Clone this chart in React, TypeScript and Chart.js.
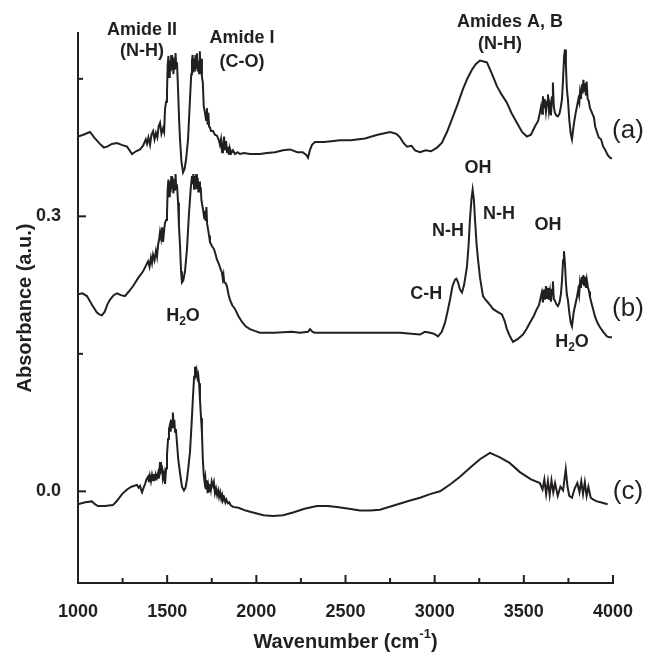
import React, { useEffect, useRef } from 'react';
import { Chart, registerables } from 'chart.js';

Chart.register(...registerables);

// ---------- data ----------
const waveA = [1000, 1030, 1067, 1095, 1123, 1145, 1163, 1190, 1219, 1245, 1275, 1303, 1325, 1348, 1365, 1380, 1387, 1395, 1404, 1412, 1421, 1429, 1437, 1445, 1452, 1460, 1468, 1477, 1483, 1488, 1494, 1499, 1503, 1507, 1511, 1515, 1519, 1523, 1527, 1531, 1535, 1539, 1543, 1547, 1551, 1555, 1561, 1567, 1572, 1580, 1589, 1598, 1606, 1617, 1628, 1635, 1639, 1643, 1647, 1651, 1655, 1659, 1663, 1667, 1671, 1675, 1679, 1683, 1687, 1691, 1695, 1700, 1705, 1712, 1718, 1723, 1727, 1731, 1735, 1740, 1746, 1757, 1768, 1779, 1790, 1796, 1802, 1808, 1813, 1819, 1825, 1830, 1836, 1841, 1847, 1852, 1860, 1869, 1880, 1895, 1908, 1930, 1964, 2020, 2060, 2105, 2150, 2189, 2230, 2260, 2280, 2290, 2300, 2312, 2329, 2380, 2420, 2469, 2530, 2609, 2680, 2750, 2785, 2806, 2825, 2845, 2870, 2890, 2918, 2950, 2980, 3013, 3040, 3069, 3103, 3130, 3159, 3185, 3209, 3230, 3254, 3275, 3293, 3320, 3349, 3375, 3405, 3430, 3461, 3490, 3517, 3540, 3562, 3580, 3590, 3597, 3603, 3607, 3612, 3617, 3624, 3630, 3635, 3641, 3646, 3652, 3658, 3663, 3668, 3674, 3682, 3691, 3700, 3708, 3714, 3720, 3726, 3731, 3736, 3741, 3747, 3755, 3763, 3770, 3780, 3790, 3798, 3806, 3811, 3815, 3820, 3826, 3830, 3834, 3838, 3843, 3848, 3852, 3858, 3864, 3871, 3878, 3884, 3893, 3900, 3910, 3920, 3933, 3945, 3955, 3970, 3983, 3994];
const absA = [0.387, 0.389, 0.392, 0.385, 0.379, 0.375, 0.376, 0.379, 0.380, 0.378, 0.376, 0.368, 0.371, 0.373, 0.377, 0.384, 0.379, 0.386, 0.378, 0.389, 0.393, 0.384, 0.391, 0.386, 0.398, 0.402, 0.390, 0.396, 0.392, 0.417, 0.425, 0.435, 0.465, 0.475, 0.452, 0.470, 0.458, 0.476, 0.460, 0.474, 0.455, 0.472, 0.460, 0.478, 0.462, 0.468, 0.439, 0.405, 0.384, 0.360, 0.348, 0.352, 0.362, 0.384, 0.428, 0.455, 0.470, 0.476, 0.457, 0.472, 0.458, 0.476, 0.462, 0.478, 0.458, 0.470, 0.456, 0.480, 0.462, 0.472, 0.452, 0.446, 0.420, 0.413, 0.405, 0.418, 0.400, 0.413, 0.398, 0.397, 0.393, 0.393, 0.389, 0.388, 0.383, 0.378, 0.384, 0.370, 0.375, 0.387, 0.372, 0.382, 0.370, 0.376, 0.368, 0.374, 0.369, 0.372, 0.368, 0.370, 0.368, 0.369, 0.368, 0.368, 0.369, 0.370, 0.372, 0.373, 0.370, 0.370, 0.367, 0.364, 0.372, 0.378, 0.381, 0.381, 0.382, 0.383, 0.383, 0.385, 0.389, 0.392, 0.390, 0.386, 0.380, 0.376, 0.377, 0.372, 0.370, 0.372, 0.371, 0.375, 0.380, 0.392, 0.409, 0.423, 0.439, 0.451, 0.460, 0.466, 0.470, 0.469, 0.468, 0.456, 0.442, 0.433, 0.424, 0.413, 0.402, 0.392, 0.387, 0.389, 0.398, 0.404, 0.413, 0.420, 0.412, 0.431, 0.418, 0.428, 0.414, 0.425, 0.433, 0.415, 0.422, 0.410, 0.430, 0.446, 0.420, 0.413, 0.410, 0.409, 0.412, 0.420, 0.428, 0.450, 0.475, 0.482, 0.465, 0.440, 0.428, 0.405, 0.390, 0.384, 0.400, 0.412, 0.420, 0.428, 0.424, 0.435, 0.428, 0.444, 0.434, 0.449, 0.436, 0.445, 0.432, 0.447, 0.428, 0.426, 0.418, 0.415, 0.412, 0.408, 0.398, 0.392, 0.386, 0.384, 0.376, 0.373, 0.367, 0.364, 0.363];

const waveB = [1000, 1025, 1050, 1080, 1106, 1120, 1134, 1150, 1165, 1179, 1200, 1219, 1240, 1263, 1285, 1309, 1335, 1365, 1380, 1393, 1401, 1409, 1415, 1421, 1429, 1437, 1443, 1449, 1455, 1460, 1466, 1472, 1477, 1483, 1488, 1494, 1499, 1503, 1507, 1511, 1515, 1519, 1523, 1527, 1531, 1535, 1539, 1543, 1547, 1551, 1555, 1561, 1566, 1572, 1578, 1583, 1590, 1600, 1611, 1622, 1632, 1639, 1643, 1647, 1651, 1655, 1659, 1663, 1667, 1671, 1675, 1680, 1684, 1688, 1692, 1697, 1703, 1708, 1712, 1716, 1720, 1724, 1729, 1735, 1740, 1750, 1763, 1772, 1779, 1790, 1800, 1807, 1812, 1816, 1820, 1828, 1835, 1845, 1852, 1865, 1880, 1900, 1919, 1940, 1964, 1990, 2020, 2100, 2200, 2245, 2290, 2301, 2315, 2329, 2450, 2581, 2700, 2806, 2870, 2918, 2945, 2974, 2995, 3019, 3040, 3058, 3072, 3086, 3100, 3114, 3122, 3131, 3142, 3153, 3165, 3181, 3190, 3198, 3206, 3213, 3220, 3226, 3235, 3243, 3255, 3271, 3285, 3299, 3312, 3327, 3350, 3377, 3392, 3405, 3420, 3439, 3465, 3495, 3515, 3534, 3555, 3573, 3585, 3595, 3601, 3607, 3612, 3618, 3624, 3630, 3636, 3641, 3647, 3652, 3658, 3663, 3668, 3674, 3683, 3691, 3700, 3708, 3714, 3720, 3725, 3730, 3736, 3741, 3747, 3755, 3763, 3770, 3780, 3790, 3798, 3805, 3810, 3815, 3820, 3826, 3830, 3834, 3838, 3843, 3848, 3853, 3860, 3866, 3871, 3880, 3888, 3900, 3915, 3927, 3945, 3966, 3980, 3994];
const absB = [0.215, 0.216, 0.213, 0.203, 0.195, 0.193, 0.192, 0.196, 0.204, 0.209, 0.214, 0.216, 0.214, 0.213, 0.218, 0.224, 0.232, 0.240, 0.246, 0.251, 0.245, 0.255, 0.249, 0.258, 0.252, 0.262, 0.256, 0.269, 0.275, 0.283, 0.276, 0.288, 0.272, 0.285, 0.293, 0.296, 0.302, 0.330, 0.340, 0.322, 0.338, 0.326, 0.344, 0.330, 0.342, 0.325, 0.340, 0.328, 0.346, 0.330, 0.335, 0.315, 0.290, 0.268, 0.240, 0.228, 0.230, 0.240, 0.264, 0.302, 0.330, 0.344, 0.335, 0.346, 0.330, 0.344, 0.332, 0.346, 0.330, 0.342, 0.326, 0.338, 0.326, 0.332, 0.318, 0.312, 0.305, 0.298, 0.306, 0.295, 0.310, 0.292, 0.286, 0.279, 0.272, 0.268, 0.264, 0.258, 0.253, 0.248, 0.242, 0.239, 0.232, 0.236, 0.228, 0.227, 0.224, 0.214, 0.209, 0.203, 0.199, 0.191, 0.185, 0.180, 0.177, 0.175, 0.173, 0.173, 0.174, 0.173, 0.174, 0.177, 0.174, 0.173, 0.173, 0.173, 0.173, 0.173, 0.172, 0.171, 0.174, 0.173, 0.172, 0.169, 0.174, 0.184, 0.196, 0.209, 0.224, 0.231, 0.232, 0.228, 0.220, 0.217, 0.225, 0.245, 0.268, 0.297, 0.318, 0.329, 0.318, 0.297, 0.270, 0.253, 0.232, 0.213, 0.209, 0.206, 0.203, 0.199, 0.196, 0.193, 0.186, 0.177, 0.170, 0.163, 0.166, 0.171, 0.177, 0.184, 0.191, 0.199, 0.203, 0.212, 0.217, 0.206, 0.220, 0.209, 0.224, 0.210, 0.222, 0.209, 0.218, 0.207, 0.220, 0.229, 0.210, 0.208, 0.204, 0.202, 0.206, 0.215, 0.230, 0.252, 0.262, 0.250, 0.228, 0.215, 0.209, 0.195, 0.184, 0.180, 0.196, 0.205, 0.212, 0.220, 0.214, 0.228, 0.222, 0.234, 0.226, 0.236, 0.224, 0.234, 0.222, 0.231, 0.222, 0.218, 0.212, 0.205, 0.199, 0.190, 0.183, 0.179, 0.174, 0.169, 0.168, 0.168];

const waveC = [1000, 1040, 1078, 1095, 1112, 1150, 1196, 1220, 1247, 1275, 1300, 1331, 1340, 1348, 1355, 1359, 1368, 1376, 1384, 1393, 1398, 1403, 1409, 1415, 1421, 1426, 1432, 1437, 1443, 1449, 1454, 1460, 1465, 1471, 1476, 1482, 1488, 1494, 1499, 1505, 1510, 1516, 1520, 1524, 1528, 1532, 1536, 1540, 1544, 1549, 1555, 1562, 1572, 1583, 1594, 1603, 1611, 1620, 1628, 1636, 1645, 1651, 1656, 1661, 1665, 1670, 1674, 1679, 1684, 1690, 1695, 1700, 1705, 1710, 1714, 1718, 1722, 1727, 1731, 1736, 1740, 1745, 1750, 1757, 1762, 1768, 1774, 1780, 1786, 1791, 1797, 1803, 1808, 1813, 1820, 1826, 1832, 1840, 1848, 1855, 1869, 1900, 1940, 1981, 2040, 2093, 2150, 2206, 2270, 2340, 2400, 2452, 2520, 2581, 2640, 2693, 2780, 2862, 2918, 2974, 3030, 3090, 3142, 3200, 3254, 3310, 3366, 3420, 3478, 3540, 3590, 3605, 3615, 3625, 3635, 3645, 3655, 3665, 3675, 3690, 3705, 3720, 3735, 3745, 3755, 3770, 3785, 3800, 3812, 3822, 3832, 3842, 3852, 3862, 3875, 3890, 3910, 3930, 3950, 3970, 3994];
const absC = [-0.014, -0.012, -0.011, -0.014, -0.016, -0.016, -0.015, -0.010, -0.003, 0.002, 0.005, 0.007, 0.004, 0.006, 0.001, -0.001, 0.004, 0.008, 0.013, 0.016, 0.010, 0.017, 0.011, 0.018, 0.012, 0.019, 0.013, 0.018, 0.015, 0.020, 0.014, 0.032, 0.022, 0.025, 0.014, 0.020, 0.008, 0.025, 0.040, 0.057, 0.068, 0.073, 0.065, 0.078, 0.070, 0.086, 0.072, 0.078, 0.065, 0.068, 0.053, 0.035, 0.020, 0.005, 0.001, 0.004, 0.013, 0.028, 0.043, 0.070, 0.104, 0.125, 0.136, 0.128, 0.132, 0.124, 0.127, 0.118, 0.100, 0.080, 0.064, 0.035, 0.018, 0.010, 0.015, 0.003, 0.012, -0.002, 0.006, 0.000, 0.008, 0.002, 0.011, 0.006, 0.010, -0.002, 0.003, -0.004, 0.001, -0.006, -0.001, -0.008, -0.004, -0.010, -0.007, -0.012, -0.009, -0.013, -0.012, -0.015, -0.017, -0.018, -0.021, -0.023, -0.026, -0.027, -0.026, -0.023, -0.019, -0.016, -0.016, -0.017, -0.019, -0.021, -0.021, -0.020, -0.015, -0.010, -0.007, -0.003, 0.000, 0.008, 0.016, 0.026, 0.035, 0.042, 0.037, 0.031, 0.021, 0.013, 0.009, 0.002, 0.013, -0.003, 0.011, -0.004, 0.012, -0.001, 0.009, -0.005, 0.005, 0.001, 0.024, 0.005, -0.005, -0.007, 0.003, 0.009, -0.001, 0.011, -0.003, 0.010, -0.005, 0.005, -0.007, -0.009, -0.011, -0.012, -0.013, -0.014];

const xTickValues = [1000, 1250, 1500, 1750, 2000, 2250, 2500, 2750, 3000, 3250, 3500, 3750, 4000];
const xTickLabels = ['1000', '', '1500', '', '2000', '', '2500', '', '3000', '', '3500', '', '4000'];
const yTickValues = [0, 0.15, 0.3, 0.45];
const yTickLabels = ['0.0', '', '0.3', ''];

const yTitle = 'Absorbance (a.u.)';
const xTitle = [{ t: 'Wavenumber (cm' }, { t: '-1', s: 'sup' }, { t: ')' }];

type Seg = { t: string; s?: 'sub' | 'sup' };
type Note = { parts: Seg[]; x: number; y: number; size: number; bold: boolean };

const notes: Note[] = [
  { parts: [{ t: 'Amide II' }], x: 1359, y: 0.503, size: 18, bold: true },
  { parts: [{ t: '(N-H)' }], x: 1359, y: 0.480, size: 18, bold: true },
  { parts: [{ t: 'Amide I' }], x: 1920, y: 0.494, size: 18, bold: true },
  { parts: [{ t: '(C-O)' }], x: 1920, y: 0.468, size: 18, bold: true },
  { parts: [{ t: 'Amides A, B' }], x: 3422, y: 0.512, size: 18, bold: true },
  { parts: [{ t: '(N-H)' }], x: 3366, y: 0.488, size: 18, bold: true },
  { parts: [{ t: '(a)' }], x: 4084, y: 0.393, size: 26, bold: false },
  { parts: [{ t: 'OH' }], x: 3243, y: 0.353, size: 18, bold: true },
  { parts: [{ t: 'N-H' }], x: 3361, y: 0.302, size: 18, bold: true },
  { parts: [{ t: 'N-H' }], x: 3075, y: 0.284, size: 18, bold: true },
  { parts: [{ t: 'C-H' }], x: 2953, y: 0.215, size: 18, bold: true },
  { parts: [{ t: 'OH' }], x: 3635, y: 0.291, size: 18, bold: true },
  { parts: [{ t: '(b)' }], x: 4084, y: 0.199, size: 26, bold: false },
  { parts: [{ t: 'H' }, { t: '2', s: 'sub' }, { t: 'O' }], x: 3770, y: 0.163, size: 18, bold: true },
  { parts: [{ t: 'H' }, { t: '2', s: 'sub' }, { t: 'O' }], x: 1589, y: 0.191, size: 18, bold: true },
  { parts: [{ t: '(c)' }], x: 4084, y: 0.0, size: 26, bold: false },
];

const FONT = '"Liberation Sans", Arial, Helvetica, sans-serif';
const INK = '#231f20';

function drawRich(ctx: CanvasRenderingContext2D, parts: Seg[], cx: number, cy: number, size: number, bold: boolean) {
  const w = bold ? 'bold ' : '';
  const fontFor = (s?: string) => `${w}${s ? Math.round(size * 0.65) : size}px ${FONT}`;
  let total = 0;
  const widths = parts.map((p) => {
    ctx.font = fontFor(p.s);
    const m = ctx.measureText(p.t).width;
    total += m;
    return m;
  });
  let x = cx - total / 2;
  ctx.textAlign = 'left';
  ctx.textBaseline = 'middle';
  ctx.fillStyle = INK;
  parts.forEach((p, i) => {
    ctx.font = fontFor(p.s);
    let dy = 0;
    if (p.s === 'sub') dy = size * 0.3;
    if (p.s === 'sup') dy = -size * 0.38;
    ctx.fillText(p.t, x, cy + dy);
    x += widths[i];
  });
}

const decorPlugin = {
  id: 'decor',
  afterDraw(chart: any) {
    const ctx: CanvasRenderingContext2D = chart.ctx;
    const xs = chart.scales.x;
    const ys = chart.scales.y;
    const area = chart.chartArea;
    ctx.save();
    ctx.strokeStyle = INK;
    ctx.lineWidth = 2;
    xs.ticks.forEach((t: any, i: number) => {
      const px = xs.getPixelForValue(t.value);
      const len = xTickLabels[i] ? 8 : 5;
      ctx.beginPath();
      ctx.moveTo(px, area.bottom);
      ctx.lineTo(px, area.bottom - len);
      ctx.stroke();
    });
    ys.ticks.forEach((t: any, i: number) => {
      const py = ys.getPixelForValue(t.value);
      const len = yTickLabels[i] ? 8 : 5;
      ctx.beginPath();
      ctx.moveTo(area.left, py);
      ctx.lineTo(area.left + len, py);
      ctx.stroke();
    });
    notes.forEach((n) => {
      drawRich(ctx, n.parts, xs.getPixelForValue(n.x), ys.getPixelForValue(n.y), n.size, n.bold);
    });
    drawRich(ctx, xTitle as Seg[], (area.left + area.right) / 2, 642, 20, true);
    ctx.restore();
  },
};

export default function App() {
  const ref = useRef<HTMLCanvasElement>(null);
  useEffect(() => {
    if (!ref.current) return;
    const mk = (w: number[], a: number[]) => w.map((x, i) => ({ x, y: a[i] }));
    const line = (label: string, data: any) => ({
      label,
      data,
      borderColor: INK,
      borderWidth: 2,
      pointRadius: 0,
      tension: 0,
      fill: false,
    });
    const chart = new Chart(ref.current, {
      type: 'line',
      data: {
        datasets: [
          line('(a)', mk(waveA, absA)),
          line('(b)', mk(waveB, absB)),
          line('(c)', mk(waveC, absC)),
        ],
      },
      options: {
        responsive: false,
        animation: false,
        layout: { padding: { top: 33, right: 33, left: 0, bottom: 0 } },
        plugins: { legend: { display: false }, tooltip: { enabled: false } },
        scales: {
          x: {
            type: 'linear',
            min: 1000,
            max: 4000,
            grid: { display: false },
            border: { display: true, color: INK, width: 2 },
            afterBuildTicks: (s: any) => {
              s.ticks = xTickValues.map((v) => ({ value: v }));
            },
            afterFit: (s: any) => {
              s.height = 69;
            },
            ticks: {
              autoSkip: false,
              maxRotation: 0,
              padding: 10,
              color: INK,
              font: { size: 18, weight: 'bold', family: FONT },
              callback: (v: any) => {
                const i = xTickValues.indexOf(Number(v));
                return i >= 0 ? xTickLabels[i] : '';
              },
            },
          },
          y: {
            type: 'linear',
            min: -0.1,
            max: 0.5,
            grid: { display: false },
            border: { display: true, color: INK, width: 2 },
            afterBuildTicks: (s: any) => {
              s.ticks = yTickValues.map((v) => ({ value: v }));
            },
            afterFit: (s: any) => {
              s.width = 78;
            },
            title: {
              display: true,
              text: yTitle,
              color: INK,
              font: { size: 20, weight: 'bold', family: FONT },
              padding: { top: 13, bottom: 0 },
            },
            ticks: {
              autoSkip: false,
              padding: 9,
              color: INK,
              font: { size: 18, weight: 'bold', family: FONT },
              callback: (v: any) => {
                const i = yTickValues.findIndex((t) => Math.abs(t - Number(v)) < 1e-9);
                return i >= 0 ? yTickLabels[i] : '';
              },
            },
          },
        },
      } as any,
      plugins: [decorPlugin],
    });
    return () => chart.destroy();
  }, []);
  return (
    <div style={{ position: 'absolute', left: 0, top: 0, width: 646, height: 652, background: '#fff' }}>
      <canvas ref={ref} width={646} height={652} style={{ display: 'block' }} />
    </div>
  );
}
